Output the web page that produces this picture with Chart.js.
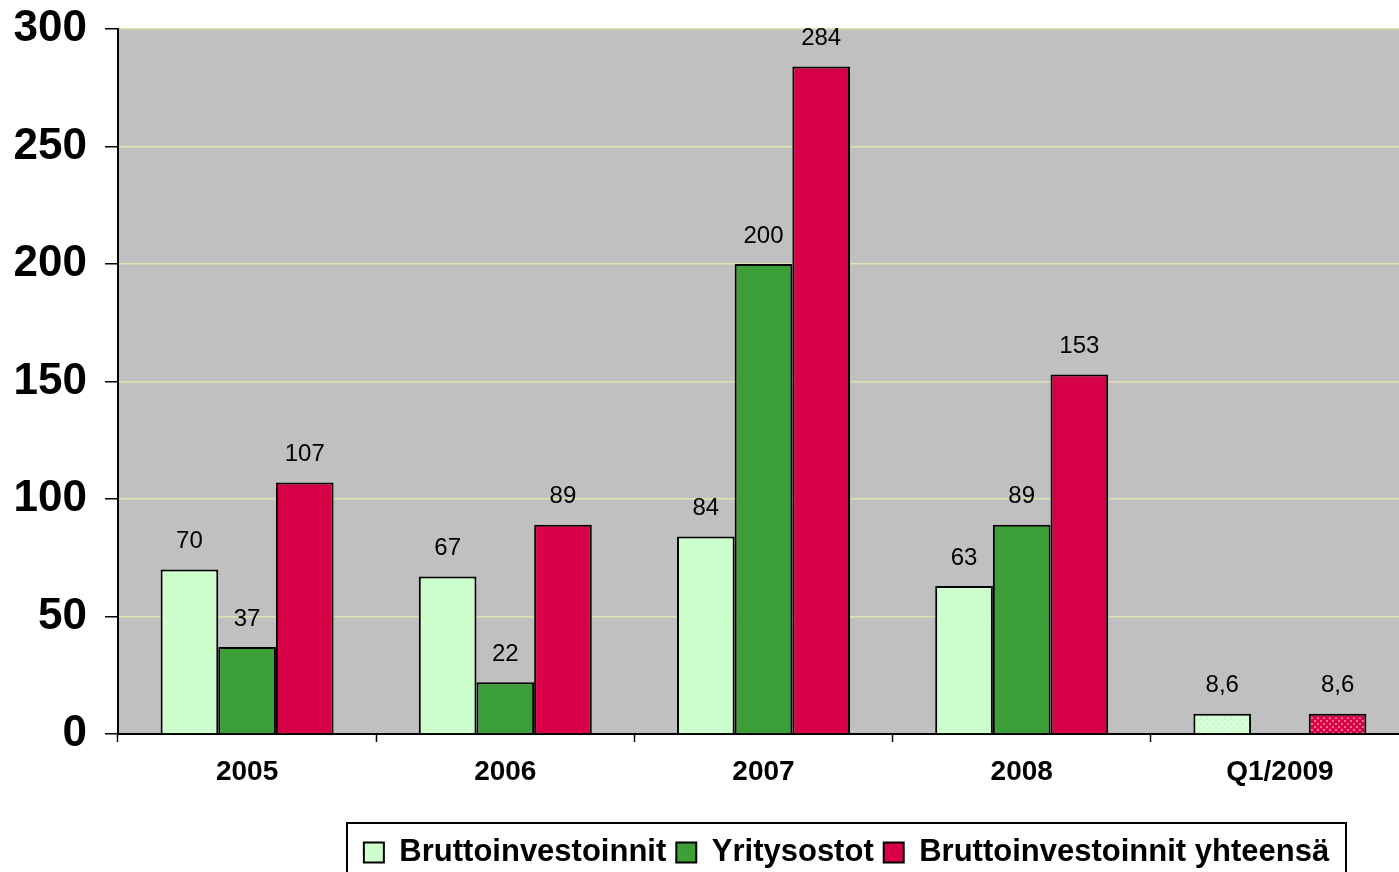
<!DOCTYPE html>
<html>
<head>
<meta charset="utf-8">
<script src="https://cdn.jsdelivr.net/npm/chart.js@4/dist/chart.umd.min.js"></script>
<style>
  html, body { margin: 0; padding: 0; background: #fff; overflow: hidden; }
  #wrap { width: 1399px; height: 872px; overflow: hidden; }
</style>
</head>
<body>
<div id="wrap"><canvas id="chart" width="1420" height="872"></canvas></div>
<script>
// データ ---------------
const categories = ["2005", "2006", "2007", "2008", "Q1/2009"];
const brutto = [70, 67, 84, 63, 8.6];
const yritysostot = [37, 22, 200, 89, null];
const yhteensa = [107, 89, 284, 153, 8.6];
const seriesNames = ["Bruttoinvestoinnit", "Yritysostot", "Bruttoinvestoinnit yhteensä"];
const yTicks = [0, 50, 100, 150, 200, 250, 300];

const lightGreen = "#ccffcc";
const green = "#3c9f37";
const red = "#d80046";

// Q1/2009 の棒は網掛け
function makePattern(base, dot) {
  const c = document.createElement("canvas");
  c.width = 6; c.height = 6;
  const g = c.getContext("2d");
  g.fillStyle = base;
  g.fillRect(0, 0, 6, 6);
  g.fillStyle = dot;
  g.fillRect(0, 0, 2, 2);
  g.fillRect(3, 3, 2, 2);
  return g.createPattern(c, "repeat");
}
const ctx = document.getElementById("chart").getContext("2d");
const greenPat = makePattern(lightGreen, "#eefff0");
const redPat = makePattern(red, "#f06a92");

const fillFor = (color, pat) => categories.map((c, i) => i === categories.length - 1 ? pat : color);

// 棒の上の数値ラベル
const valueLabels = {
  id: "valueLabels",
  afterDatasetsDraw(chart) {
    const c = chart.ctx;
    c.save();
    c.font = "24px 'Liberation Sans', Arial, sans-serif";
    c.fillStyle = "#000";
    c.textAlign = "center";
    c.textBaseline = "middle";
    chart.data.datasets.forEach((ds, di) => {
      const meta = chart.getDatasetMeta(di);
      meta.data.forEach((bar, i) => {
        const v = ds.data[i];
        if (v === null || v === undefined) return;
        c.fillText(String(v).replace(".", ","), bar.x, bar.y - 28);
      });
    });
    c.restore();
  }
};

// 凡例の位置と枠線
const legendBox = {
  id: "legendBox",
  afterLayout(chart) {
    const lg = chart.legend;
    lg.left = 241;
    lg.right = 1452;
    lg.top = 827;
  },
  afterDraw(chart) {
    const c = chart.ctx;
    c.save();
    c.strokeStyle = "#000";
    c.lineWidth = 2;
    c.strokeRect(347, 823, 999, 60);
    c.restore();
  }
};

const plotBg = {
  id: "plotBg",
  beforeDraw(chart) {
    const a = chart.chartArea;
    chart.ctx.save();
    chart.ctx.fillStyle = "#c0c0c0";
    chart.ctx.fillRect(a.left, a.top, a.right - a.left, a.bottom - a.top);
    chart.ctx.restore();
  }
};

new Chart(ctx, {
  type: "bar",
  data: {
    labels: categories,
    datasets: [
      { label: seriesNames[0], data: brutto, backgroundColor: fillFor(lightGreen, greenPat), borderColor: "#000", borderWidth: 2 },
      { label: seriesNames[1], data: yritysostot, backgroundColor: fillFor(green, greenPat), borderColor: "#000", borderWidth: 2 },
      { label: seriesNames[2], data: yhteensa, backgroundColor: fillFor(red, redPat), borderColor: "#000", borderWidth: 2 }
    ]
  },
  options: {
    responsive: false,
    animation: false,
    layout: { padding: { top: 25, right: 11, left: 0, bottom: 0 } },
    categoryPercentage: 0.67,
    barPercentage: 1,
    plugins: {
      tooltip: { enabled: false },
      legend: {
        position: "bottom",
        labels: {
          color: "#000",
          font: { family: "'Liberation Sans', Arial, sans-serif", size: 31, weight: "bold" },
          boxWidth: 20,
          boxHeight: 20,
          padding: 10
        }
      }
    },
    scales: {
      x: {
        grid: { display: true, drawOnChartArea: false, tickLength: 8, tickColor: "#000", tickWidth: 1.5 },
        border: { color: "#000", width: 2 },
        ticks: {
          color: "#000",
          padding: 13,
          font: { family: "'Liberation Sans', Arial, sans-serif", size: 28, weight: "bold" }
        },
        afterFit(scale) { scale.height = 87; }
      },
      y: {
        min: 0,
        max: 300,
        afterBuildTicks(scale) { scale.ticks = yTicks.map(v => ({ value: v })); },
        grid: { color: "#e2e2b0", lineWidth: 1.5, tickLength: 13, tickColor: "#000", tickWidth: 1.5 },
        border: { color: "#000", width: 2 },
        ticks: {
          color: "#000",
          padding: 18,
          font: { family: "'Liberation Sans', Arial, sans-serif", size: 44, weight: "bold", lineHeight: 0.5 }
        },
        afterFit(scale) { scale.width = 118; }
      }
    }
  },
  plugins: [plotBg, valueLabels, legendBox]
});
</script>
</body>
</html>
